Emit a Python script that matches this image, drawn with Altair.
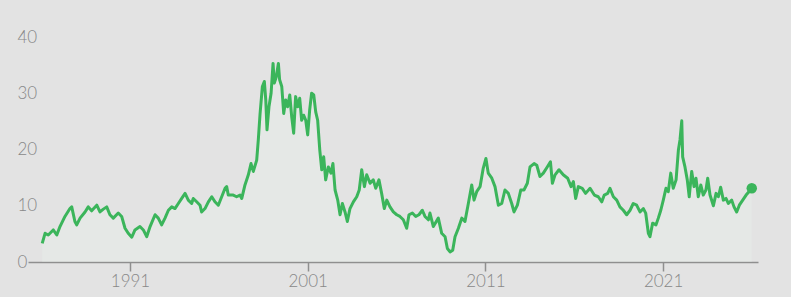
import altair as alt
import pandas as pd

years = [
    1986.06, 1986.22, 1986.40, 1986.68, 1986.88, 1987.06, 1987.34, 1987.62, 1987.72, 1987.90,
    1988.00, 1988.19, 1988.47, 1988.65, 1988.84, 1989.13, 1989.31, 1989.50, 1989.69, 1989.87,
    1990.06, 1990.34, 1990.53, 1990.72, 1990.90, 1991.10, 1991.28, 1991.56, 1991.75, 1991.94,
    1992.13, 1992.41, 1992.59, 1992.78, 1992.97, 1993.16, 1993.35, 1993.53, 1993.72, 1993.91,
    1994.10, 1994.28, 1994.47, 1994.56, 1994.75, 1994.94, 1995.03, 1995.22, 1995.41, 1995.60,
    1995.78, 1995.97, 1996.16, 1996.35, 1996.44, 1996.53, 1996.81, 1997.00, 1997.19, 1997.29,
    1997.47, 1997.66, 1997.81, 1997.94, 1998.13, 1998.22, 1998.32, 1998.45, 1998.56, 1998.64,
    1998.71, 1998.82, 1998.94, 1999.05, 1999.12, 1999.23, 1999.35, 1999.42, 1999.54, 1999.65,
    1999.76, 1999.87, 1999.99, 2000.10, 2000.21, 2000.32, 2000.44, 2000.55, 2000.66, 2000.77,
    2000.89, 2001.00, 2001.11, 2001.22, 2001.34, 2001.45, 2001.56, 2001.68, 2001.79, 2001.90,
    2002.01, 2002.16, 2002.31, 2002.42, 2002.54, 2002.69, 2002.82, 2002.95, 2003.10, 2003.23,
    2003.38, 2003.57, 2003.76, 2003.90, 2004.04, 2004.19, 2004.32, 2004.51, 2004.69, 2004.83,
    2005.01, 2005.16, 2005.31, 2005.45, 2005.63, 2005.82, 2006.01, 2006.19, 2006.38, 2006.57,
    2006.70, 2006.89, 2007.08, 2007.26, 2007.45, 2007.60, 2007.79, 2007.88, 2008.07, 2008.35,
    2008.54, 2008.73, 2008.86, 2009.01, 2009.16, 2009.29, 2009.48, 2009.67, 2009.85, 2010.04,
    2010.23, 2010.36, 2010.51, 2010.70, 2010.88, 2011.03, 2011.16, 2011.36, 2011.54, 2011.73,
    2011.92, 2012.10, 2012.29, 2012.48, 2012.61, 2012.80, 2012.99, 2013.17, 2013.36, 2013.51,
    2013.74, 2013.89, 2014.07, 2014.26, 2014.48, 2014.66, 2014.77, 2014.92, 2015.14, 2015.38,
    2015.63, 2015.82, 2015.95, 2016.08, 2016.23, 2016.45, 2016.64, 2016.89, 2017.13, 2017.35,
    2017.55, 2017.69, 2017.88, 2018.01, 2018.20, 2018.39, 2018.57, 2018.76, 2018.95, 2019.14,
    2019.32, 2019.51, 2019.70, 2019.89, 2020.02, 2020.17, 2020.26, 2020.41, 2020.60, 2020.73,
    2020.87, 2021.01, 2021.16, 2021.29, 2021.43, 2021.57, 2021.73, 2021.86, 2021.95, 2022.05,
    2022.10, 2022.23, 2022.36, 2022.47, 2022.61, 2022.74, 2022.85, 2022.98, 2023.12, 2023.26,
    2023.41, 2023.51, 2023.64, 2023.83, 2023.98, 2024.11, 2024.24, 2024.39, 2024.54, 2024.67,
    2024.86, 2024.99, 2025.14, 2025.29, 2025.48, 2025.67, 2025.83, 2025.99,
]

values = [
    3.3, 5.1, 4.8, 5.7, 4.8, 6.3, 8.1, 9.5, 9.8, 7.2,
    6.6, 7.8, 8.9, 9.8, 9.1, 10.1, 8.9, 9.4, 9.8, 8.4,
    7.8, 8.7, 8.1, 6.0, 5.1, 4.4, 5.7, 6.3, 5.7, 4.5,
    6.3, 8.4, 7.8, 6.6, 7.8, 9.2, 9.8, 9.5, 10.4, 11.3,
    12.2, 11.0, 10.4, 11.3, 10.7, 10.1, 8.9, 9.5, 10.7, 11.6,
    10.7, 10.1, 11.6, 13.1, 13.4, 11.9, 11.9, 11.6, 11.9, 11.3,
    13.7, 15.5, 17.5, 16.1, 18.1, 21.7, 26.4, 31.2, 32.1, 28.8,
    23.5, 27.6, 30.0, 35.3, 31.8, 32.9, 35.3, 32.4, 31.2, 26.4,
    28.8, 27.6, 29.7, 25.8, 22.9, 29.4, 27.6, 29.1, 25.2, 26.1,
    25.2, 22.6, 27.0, 30.0, 29.7, 26.7, 25.2, 19.9, 16.4, 18.7,
    14.6, 16.9, 15.8, 17.5, 12.8, 11.0, 8.4, 10.4, 8.9, 7.2,
    9.5, 10.7, 11.6, 12.8, 16.4, 13.4, 15.5, 14.0, 14.6, 13.1,
    14.6, 12.2, 9.5, 11.0, 9.8, 8.9, 8.4, 8.1, 7.5, 6.0,
    8.4, 8.7, 8.1, 8.4, 9.2, 8.1, 7.5, 8.7, 6.3, 7.8,
    5.1, 4.5, 2.4, 1.8, 2.1, 4.5, 6.0, 7.8, 7.2, 10.4,
    13.7, 11.0, 12.5, 13.4, 16.7, 18.4, 15.8, 14.9, 13.4, 10.1,
    10.4, 12.8, 12.2, 10.4, 8.9, 10.1, 12.8, 12.8, 14.0, 16.9,
    17.5, 17.2, 15.2, 15.8, 16.9, 17.8, 14.0, 15.5, 16.4, 15.5,
    14.9, 13.4, 14.3, 11.3, 13.4, 13.1, 12.2, 13.1, 11.9, 11.6,
    10.7, 11.9, 12.2, 13.1, 11.6, 11.0, 9.8, 9.2, 8.4, 9.2,
    10.4, 10.1, 8.9, 9.5, 8.7, 5.1, 4.5, 6.9, 6.6, 7.8,
    9.2, 11.0, 13.1, 12.5, 15.8, 13.1, 14.6, 19.9, 21.7, 25.1,
    18.7, 16.9, 14.6, 11.6, 16.1, 13.4, 14.9, 11.6, 13.7, 11.9,
    12.8, 14.9, 11.9, 10.0, 12.2, 11.6, 13.3, 11.0, 11.3, 10.4,
    11.0, 9.8, 8.9, 10.1, 11.0, 11.9, 12.5, 13.1,
]

x_ticks = [1991, 2001, 2011, 2021]
y_ticks = [0, 10, 20, 30, 40]

df = pd.DataFrame({"year": years, "value": values})
last = df.tail(1)

GREEN = "#3bb55b"
GREY = "#888888"
FONT = "Lato"

x_enc = alt.X(
    "year:Q",
    scale=alt.Scale(domain=[1985.26, 2026.34], nice=False, zero=False),
    axis=alt.Axis(
        values=x_ticks, format="d", title=None, grid=False,
        domainColor="#8f8f8f", domainWidth=1.5, tickColor="#8f8f8f", tickWidth=1.5,
        tickSize=9, labelPadding=2, labelColor=GREY, labelFont=FONT,
        labelFontSize=17, labelFontWeight=300,
    ),
)
y_enc = alt.Y(
    "value:Q",
    scale=alt.Scale(domain=[0, 40], nice=False),
    axis=alt.Axis(
        values=y_ticks, title=None, grid=False, domain=False, ticks=False,
        tickSize=0, labelAlign="left", labelBaseline="middle", labelPadding=11,
        labelColor=GREY, labelFont=FONT, labelFontSize=17, labelFontWeight=300,
    ),
)

area = alt.Chart(df).mark_area(color="#f0fff3", opacity=0.18).encode(x=x_enc, y=y_enc)
line = alt.Chart(df).mark_line(color=GREEN, strokeWidth=3, strokeJoin="round").encode(x=x_enc, y=y_enc)
dot = alt.Chart(last).mark_circle(color=GREEN, size=110, opacity=1).encode(x=x_enc, y=y_enc)

chart = (
    alt.layer(area, line, dot)
    .properties(
        width=730, height=225,
        autosize=alt.AutoSizeParams(type="none"),
        padding={"left": 28, "top": 37, "right": 33, "bottom": 35},
        background="#e3e3e3",
    )
    .configure_view(stroke=None)
)

chart.save("out.html", embed_options={"renderer": "svg", "actions": False})
